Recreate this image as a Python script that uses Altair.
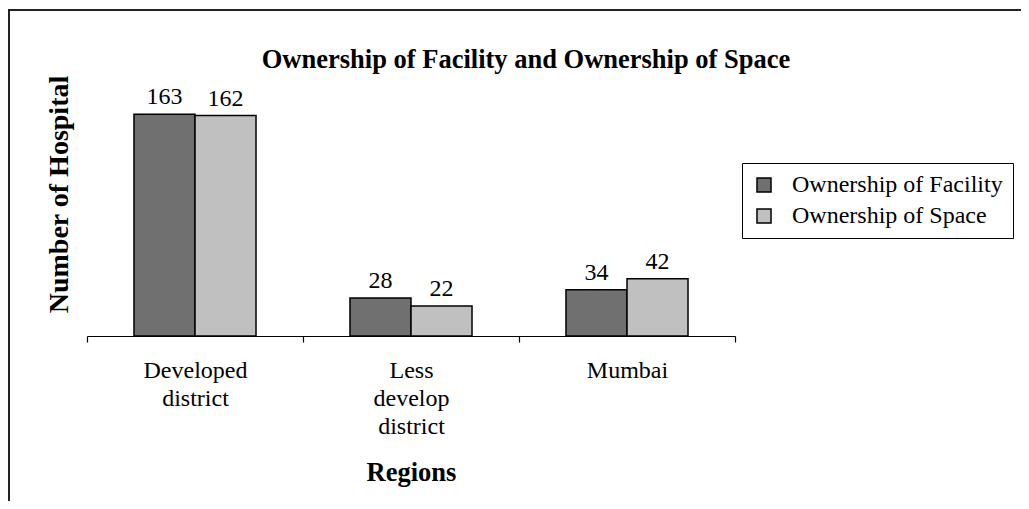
import altair as alt
import pandas as pd

regions = ["Developed district", "Less develop district", "Mumbai"]
series = ["Ownership of Facility", "Ownership of Space"]
facility = [163, 28, 34]
space = [162, 22, 42]
colors = ["#707070", "#c0c0c0"]

rows = []
for i, r in enumerate(regions):
    rows.append({"region": r, "series": series[0], "value": facility[i]})
    rows.append({"region": r, "series": series[1], "value": space[i]})
df = pd.DataFrame(rows)

FONT = "Liberation Serif"

x_enc = alt.X(
    "region:N",
    sort=regions,
    scale=alt.Scale(paddingInner=0, paddingOuter=0),
    axis=alt.Axis(
        title="Regions",
        labelAngle=0,
        labelExpr="split(datum.label, ' ')",
        labelFont=FONT,
        labelFontSize=24,
        labelColor="black",
        labelLineHeight=28,
        labelBaseline="alphabetic",
        labelPadding=35,
        tickBand="extent",
        tickSize=6,
        tickColor="black",
        tickWidth=1.2,
        domainColor="black",
        domainWidth=1.2,
        grid=False,
        titleFont=FONT,
        titleFontSize=26.5,
        titleFontWeight="bold",
        titleColor="black",
        titleBaseline="alphabetic",
        titleY=144,
    ),
)
xo_enc = alt.XOffset(
    "series:N", sort=series, scale=alt.Scale(paddingInner=0, paddingOuter=0.77)
)
y_enc = alt.Y(
    "value:Q",
    scale=alt.Scale(domain=[0, 180]),
    axis=alt.Axis(
        title="Number of Hospital",
        domain=False,
        ticks=False,
        labels=False,
        grid=False,
        titleFont=FONT,
        titleFontSize=28,
        titleFontWeight="bold",
        titleColor="black",
        titleAngle=270,
        titleBaseline="alphabetic",
        titleAlign="center",
        titleX=-20,
        titleY=103,
    ),
)

bars = alt.Chart(df).mark_bar(stroke="black", strokeWidth=1.5).encode(
    x=x_enc,
    xOffset=xo_enc,
    y=y_enc,
    color=alt.Color(
        "series:N",
        sort=series,
        scale=alt.Scale(domain=series, range=colors),
        legend=alt.Legend(
            title=None,
            orient="none",
            legendX=655,
            legendY=72,
            strokeColor="black",
            fillColor="white",
            padding=10,
            symbolType="square",
            symbolSize=196,
            symbolStrokeColor="black",
            symbolStrokeWidth=1.5,
            labelFont=FONT,
            labelFontSize=24,
            labelColor="black",
            labelOffset=16,
            labelLimit=400,
            rowPadding=7,
        ),
    ),
)

labels = alt.Chart(df).mark_text(
    baseline="alphabetic", dy=-10, font=FONT, fontSize=24, color="black"
).encode(x=x_enc, xOffset=xo_enc, y=y_enc, text=alt.Text("value:Q"))

frame = alt.Chart(pd.DataFrame({"f": [0]})).mark_rect(
    fillOpacity=0, stroke="#222222", strokeWidth=2
).encode(
    x=alt.value(-78), x2=alt.value(1200), y=alt.value(-81), y2=alt.value(700)
)

chart = alt.layer(frame, bars, labels).properties(
    width=648,
    height=245,
    padding={"left": 79, "top": 83, "right": 286, "bottom": 165},
    autosize=alt.AutoSizeParams(type="none"),
    background="white",
    title=alt.TitleParams(
        text="Ownership of Facility and Ownership of Space",
        font=FONT,
        fontSize=26.5,
        fontWeight="bold",
        color="black",
        anchor="middle",
        baseline="alphabetic",
        dx=115,
        dy=92,
        offset=7,
    ),
).configure_view(strokeOpacity=0, stroke="transparent")

chart.save("out.html", embed_options={"renderer": "svg", "actions": False})
